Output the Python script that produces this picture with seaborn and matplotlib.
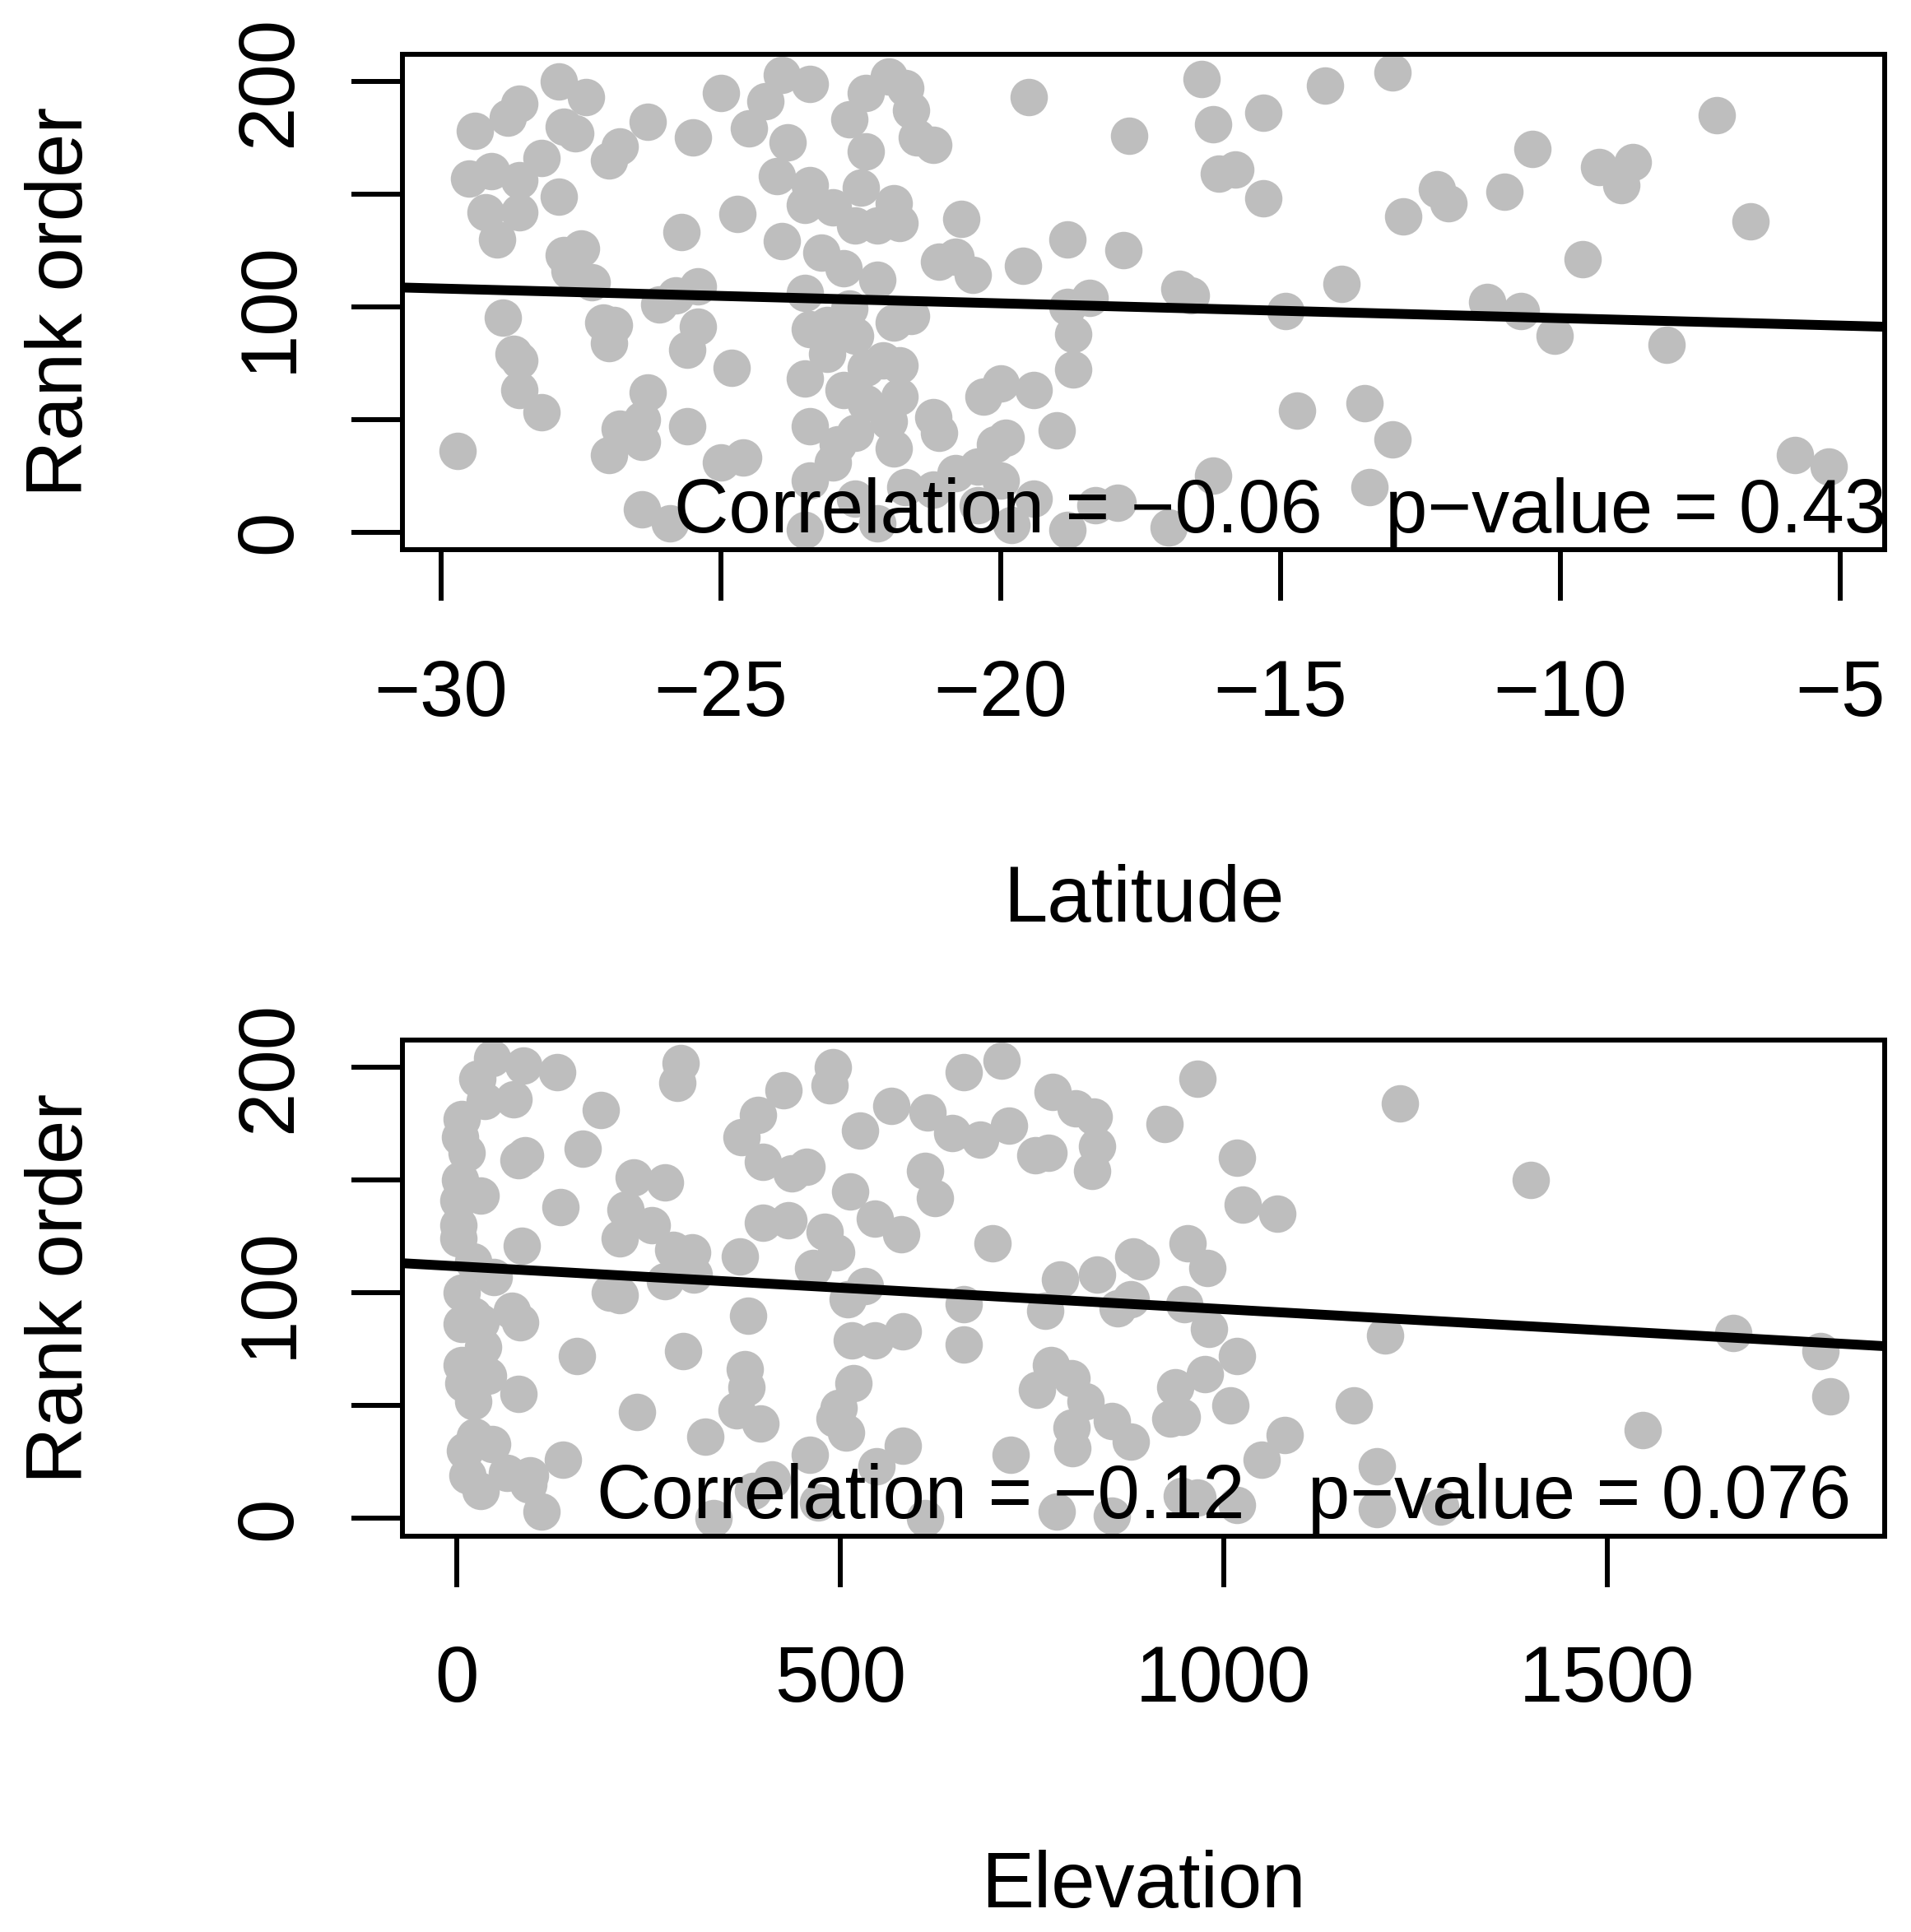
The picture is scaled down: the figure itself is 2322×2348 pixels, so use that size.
import numpy as np
import pandas as pd
import matplotlib
matplotlib.use("Agg")
import matplotlib.pyplot as plt
import seaborn as sns

# latitude panel: latitude vs rank order
lat = [-27.9, -27.4, -28.6, -28.8, -29.4, -27.8, -27.6, -28.2, -26.8, -27.0,
       -26.3, -25.5, -25.0, -23.9, -23.4, -24.2, -24.5, -23.8, -24.0, -23.4,
       -23.5, -22.4, -22.0, -22.7, -22.4, -22.5, -21.9,
       -29.5, -29.1, -28.6, -27.9, -28.6, -29.2, -29.0, -25.7, -24.7, -23.9,
       -23.2, -23.0, -22.6, -22.2, -22.8, -22.2, -23.5, -27.8, -27.5, -27.7,
       -27.3, -25.4, -25.8, -26.1, -28.9, -27.1, -26.9, -27.0, -25.4, -25.6,
       -28.7, -28.6, -28.6, -28.2, -24.8, -26.3, -26.4, -26.8, -27.0, -26.4,
       -25.6, -29.7, -25.0, -24.6, -26.4, -25.9, -23.5, -23.4, -23.0, -23.4,
       -22.9, -23.5, -23.4, -23.1, -22.6, -22.4, -22.1, -22.8, -22.4, -22.0,
       -21.9, -21.7, -22.6, -22.2, -22.7, -21.9, -23.1, -22.6,
       -21.7, -21.6, -21.5, -21.2, -19.5, -17.7, -16.4, -16.2, -15.3, -14.2,
       -13.0, -16.1, -15.8, -15.3, -20.7, -21.8, -21.1, -20.8, -20.5, -19.6,
       -18.8, -17.8, -12.8, -16.8, -16.6, -18.4, -18.8, -14.9, -13.9, -21.6,
       -18.7, -18.7, -21.8, -21.8, -21.2, -21.1, -20.3, -20.0, -19.4, -19.0,
       -19.9, -20.1, -20.8, -21.2, -20.4, -20.0, -20.4, -19.4, -19.8, -18.8,
       -18.3, -17.9, -17.0, -16.2, -14.7, -13.5, -13.0, -13.4,
       -7.2, -10.5, -9.3, -8.7, -8.9, -12.2, -12.0, -11.0, -6.6, -9.6,
       -11.3, -10.7, -10.1, -8.1, -5.8, -5.2]
lat_rank = [200, 193, 190, 184, 178, 180, 177, 166, 171, 165,
            182, 175, 195, 203, 199, 191, 179, 173, 158, 154,
            145, 195, 202, 183, 169, 153, 146,
            157, 160, 156, 149, 142, 142, 130, 133, 141, 129,
            124, 144, 136, 136, 117, 112, 106, 123, 126, 116,
            111, 109, 105, 101, 95, 93, 92, 84, 91, 81,
            79, 76, 63, 53, 73, 62, 50, 46, 34, 40,
            47, 36, 31, 33, 10, 4, 1, 23, 31, 47,
            39, 68, 90, 92, 87, 73, 76, 63, 57, 49,
            37, 20, 15, 4, 99, 93, 79, 44,
            197, 187, 175, 172, 193, 176, 201, 181, 186, 198,
            204, 159, 161, 148, 139, 137, 120, 122, 114, 118,
            130, 125, 140, 108, 105, 104, 100, 98, 110, 96,
            88, 72, 74, 60, 51, 44, 60, 66, 63, 45,
            42, 39, 26, 19, 29, 23, 12, 15, 3, 1,
            12, 13, 2, 25, 54, 57, 41, 20,
            185, 170, 162, 164, 154, 152, 146, 151, 138, 121,
            102, 98, 87, 83, 34, 29]

# elevation panel: elevation vs rank order
elev = [46, 87, 27, 131, 74, 36, 6, 4, 12, 4, 31, 2, 2, 2, 21, 48, 6, 21, 6, 31,
        72, 82, 34, 6, 40, 8, 21, 80, 23, 46, 10, 14, 31, 65, 95, 93, 110, 138,
        80, 89, 135, 84, 164, 188, 292, 287, 230, 271, 220, 254, 212, 282, 307,
        309, 271, 212, 199, 369, 380, 295, 156, 375, 377, 365, 396, 235, 324,
        426, 392, 371, 399, 456, 437, 490, 486, 526, 566, 513, 545, 579, 399,
        432, 479, 494, 464, 532, 509, 515, 545, 581, 517, 498, 507, 492, 460,
        547, 581, 411, 386, 335, 471,
        710, 661, 614, 646, 682, 720, 777, 807, 831, 835, 771, 754, 828, 923,
        966, 1017, 1025, 1070, 1230, 610, 623, 698, 786, 835, 882, 892, 953,
        979, 879, 862, 949, 981, 661, 661, 767, 1210, 775, 801, 756, 820, 801,
        803, 854, 879, 937, 975, 1017, 945, 930, 1009, 1170, 1079, 1049, 722,
        1200, 610, 782, 854, 945, 966, 1017, 1200,
        1400, 1664, 1778, 1791, 1546, 1282]
elev_rank = [204, 201, 195, 198, 186, 185, 177, 169, 162, 150, 143, 141, 130, 124,
             114, 107, 100, 90, 86, 87, 92, 87, 76, 68, 63, 60, 52, 55, 36, 33,
             30, 19, 12, 20, 19, 15, 3, 26, 159, 161, 138, 121, 164, 181, 202,
             193, 151, 149, 137, 130, 124, 119, 118, 108, 105, 99, 100, 116, 90,
             74, 72, 66, 58, 48, 42, 47, 36, 190, 179, 169, 158, 156, 153, 200,
             192, 172, 183, 145, 133, 126, 131, 132, 127, 118, 111, 103, 97, 79,
             79, 83, 60, 49, 38, 44, 28, 23, 32, 17, 12, 0, 7,
             203, 198, 180, 171, 168, 174, 189, 182, 178, 165, 162, 161, 154, 175,
             195, 160, 139, 135, 184, 154, 142, 122, 106, 108, 116, 114, 122,
             111, 97, 93, 95, 84, 95, 77, 92, 81, 68, 62, 57, 52, 40,
             31, 43, 34, 58, 64, 72, 45, 44, 50, 50, 37, 26, 28,
             23, 0, 3, 1, 10, 9, 6, 4,
             150, 82, 74, 54, 39, 5]

# fitted lines, read at the two ends of each x range
lat_range = [-30.68, -4.2]
lat_fit = [108.5, 91.1]
elev_range = [-70.7, 1862]
elev_fit = [113.1, 76.3]

lat_ticks = [-30, -25, -20, -15, -10, -5]
elev_ticks = [0, 500, 1000, 1500]
rank_ticks = [0, 50, 100, 150, 200]
rank_ticklabels = ["0", "", "100", "", "200"]
x_labels = ["Latitude", "Elevation"]
notes = ["Correlation = \u22120.06   p\u2212value = 0.43",
         "Correlation = \u22120.12   p\u2212value = 0.076"]
note_x = [-15, 1000]

sns.set_theme(style="white")
plt.rcParams["font.family"] = ["Liberation Sans", "DejaVu Sans"]
plt.rcParams["axes.unicode_minus"] = True
plt.rcParams["text.color"] = "black"
plt.rcParams["axes.labelcolor"] = "black"
plt.rcParams["xtick.color"] = "black"
plt.rcParams["ytick.color"] = "black"

FS = 69
fig, axes = plt.subplots(2, 1, figsize=(23.22, 23.48), dpi=100)
fig.subplots_adjust(left=0.2108, right=0.9862, top=0.9719, bottom=0.2049, hspace=0.989)

panels = [
    (axes[0], lat, lat_rank, lat_ticks, lat_range, lat_fit),
    (axes[1], elev, elev_rank, elev_ticks, elev_range, elev_fit),
]

for i, (ax, x, y, xt, xl, fit) in enumerate(panels):
    df = pd.DataFrame({"x": x, "rank": y})
    sns.scatterplot(data=df, x="x", y="rank", ax=ax, s=1074, color="#bebebe",
                    linewidth=0, alpha=1, zorder=2)
    sns.lineplot(x=xl, y=fit, ax=ax, color="black", lw=8.6, zorder=3)
    ax.set_xlim(xl)
    ax.set_ylim(-8, 212)

    for s in ax.spines.values():
        s.set_visible(True)
        s.set_color("black")
        s.set_linewidth(4.3)

    ax.set_xticks(xt)
    ax.set_yticks(rank_ticks)
    ax.set_yticklabels(rank_ticklabels)
    ax.tick_params(axis="both", direction="out", length=44.6, width=4.3,
                   color="black", labelsize=FS, labelcolor="black",
                   bottom=True, left=True, top=False, right=False)
    ax.tick_params(axis="x", pad=50)
    ax.tick_params(axis="y", pad=39, labelrotation=90)
    for lbl in ax.get_yticklabels():
        lbl.set_va("center")

    ax.set_xlabel(x_labels[i], fontsize=FS)
    ax.xaxis.set_label_coords(0.5, -0.708)
    ax.xaxis.label.set_va("center")
    ax.set_ylabel("Rank order", fontsize=FS)
    ax.yaxis.set_label_coords(-0.2302, 0.5)
    ax.yaxis.label.set_va("center")

    ax.text(note_x[i], 0, notes[i], ha="center", va="baseline",
            fontsize=FS * 0.96, color="black", zorder=6)

fig.savefig("out.png", dpi=100, facecolor="white")
